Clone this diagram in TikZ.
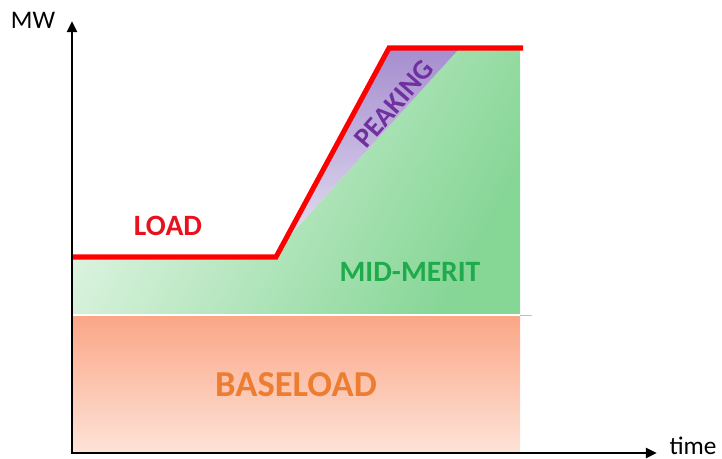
\documentclass[tikz,border=0pt]{standalone}
\usepackage{fontspec}
\setmainfont{Carlito}
\usetikzlibrary{arrows.meta}
\definecolor{loadred}{HTML}{FF0000}
\definecolor{loadtext}{HTML}{E8111E}
\definecolor{basetop}{HTML}{FBA686}
\definecolor{basebot}{HTML}{FDE3D8}
\definecolor{baseorange}{HTML}{ED7D31}
\definecolor{midleft}{HTML}{E2F5E5}
\definecolor{midright}{HTML}{86D696}
\definecolor{midtext}{HTML}{1FAA4C}
\definecolor{peaktop}{HTML}{A68ECF}
\definecolor{peakbot}{HTML}{E2DDF0}
\definecolor{peaktext}{HTML}{7030A0}
\begin{document}
\begin{tikzpicture}[x=0.025cm,y=-0.025cm]
    \tikzstyle{axis}=[line width=2pt, {Triangle[width=7pt,length=8pt]}-{Triangle[width=7pt,length=8pt]}]
    \tikzstyle{band}=[font=\bfseries\fontsize{21}{21}\selectfont]
    \useasboundingbox (0,0) rectangle (722,459);
    \coordinate (origin) at (72,453);
    \coordinate (ytip) at (72,21);
    \coordinate (xtip) at (657,453);
    \coordinate (loadstart) at (72,257);
    \coordinate (rampfoot) at (276,257);
    \coordinate (ramptop) at (389,48);
    \coordinate (loadend) at (523,48);

    \shade[left color=midleft, right color=midright, shading angle=62] (72,315) -- (72,257) -- (276,257) -- (284,242) -- (458,50) -- (520,50) -- (520,315) -- cycle;
    \shade[top color=basetop, bottom color=basebot] (72,315) rectangle (520,453);
    \shade[top color=peaktop, bottom color=peakbot] (284,242) -- (390,50) -- (458,50) -- cycle;
    \draw[white, line width=1pt] (72,315) -- (520,315);
    \draw[black!25, line width=0.5pt] (520,315) -- (532,315);

    \draw[loadred, line width=3.6pt] (loadstart) -- (rampfoot) -- (ramptop) -- (loadend);
    \draw[axis] (ytip) -- (origin) -- (xtip);

    \node (mw) at (33,20) {\fontsize{18}{18}\selectfont MW};
    \node (time) at (693,446) {\fontsize{18}{18}\selectfont time};
    \node[band, text=loadtext] (load) at (168,226) {LOAD};
    \node[band, text=midtext] (midmerit) at (410,272) {MID-MERIT};
    \node[band, text=peaktext, rotate=49, inner sep=0pt, font=\bfseries\fontsize{20}{20}\selectfont] (peaking) at (394,104) {PEAKING};
    \node[band, text=baseorange, font=\bfseries\fontsize{26}{26}\selectfont] (baseload) at (296,385) {BASELOAD};
\end{tikzpicture}
\end{document}
